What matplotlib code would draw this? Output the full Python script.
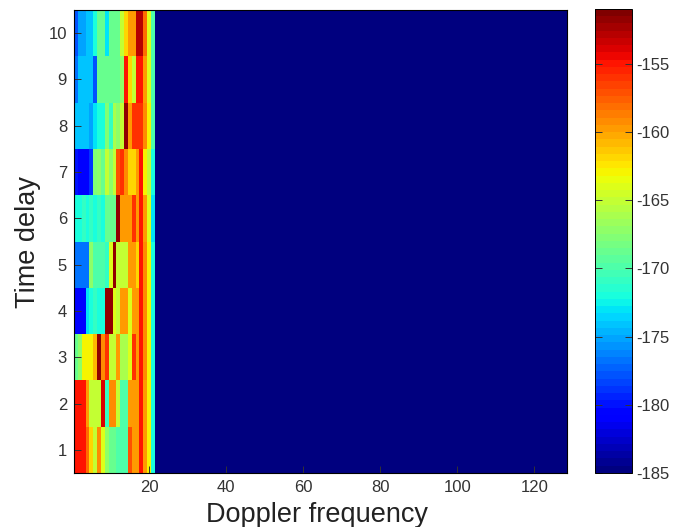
import numpy as np
import matplotlib
matplotlib.use("Agg")
import matplotlib.pyplot as plt

plt.rcParams['font.family'] = ['Liberation Sans', 'DejaVu Sans']

# power per time delay (row 1 = bottom), first 21 doppler bins, rest is at the floor
row1 = [-155,-155,-155,-158,-162,-165,-159,-164,-167,-169,-169,-170,-170,-170,-157,-160,-160,-155,-160,-163,-172]
row2 = [-155,-155,-155,-160,-165,-165,-165,-154,-171,-159,-159,-165,-170,-170,-160,-160,-160,-155,-160,-163,-172]
row3 = [-169,-167,-163,-163,-163,-161,-152,-159,-156,-165,-165,-160,-166,-166,-164,-156,-160,-155,-159,-163,-172]
row4 = [-181,-181,-181,-173,-172,-171,-172,-172,-152,-152,-164,-165,-160,-160,-164,-160,-160,-155,-159,-163,-172]
row5 = [-177,-177,-177,-177,-167,-170,-170,-170,-171,-164,-152,-165,-165,-165,-160,-160,-162,-155,-159,-163,-172]
row6 = [-172,-172,-171,-172,-171,-172,-171,-172,-169,-169,-169,-152,-160,-160,-160,-156,-160,-155,-160,-164,-173]
row7 = [-180,-181,-181,-181,-179,-168,-167,-169,-165,-167,-165,-157,-156,-159,-162,-162,-160,-155,-163,-165,-172]
row8 = [-174,-174,-174,-174,-175,-173,-172,-172,-168,-171,-166,-167,-165,-152,-160,-156,-156,-156,-159,-163,-170]
row9 = [-177,-174,-174,-174,-174,-178,-169,-169,-169,-169,-169,-169,-167,-155,-162,-165,-155,-155,-160,-164,-170]
row10 = [-178,-175,-175,-174,-174,-172,-169,-169,-173,-169,-169,-169,-165,-162,-160,-160,-153,-153,-158,-164,-170]
rows = [row1, row2, row3, row4, row5, row6, row7, row8, row9, row10]

n_doppler = 128
floor_db = -185
vmax_db = -151
xticks = [20, 40, 60, 80, 100, 120]
yticks = [1, 2, 3, 4, 5, 6, 7, 8, 9, 10]
cbar_ticks = [-155, -160, -165, -170, -175, -180, -185]

power = np.full((len(rows), n_doppler), float(floor_db))
for i, r in enumerate(rows):
    power[i, :len(r)] = r

W, H = 688, 527
fig = plt.figure(figsize=(W / 100, H / 100), dpi=100)
ax = fig.add_axes([74 / W, 1 - 473 / H, 493 / W, 463 / H])
cmap = plt.get_cmap('jet', 64)
im = ax.imshow(power, origin='lower', aspect='auto', cmap=cmap, vmin=floor_db, vmax=vmax_db,
               extent=[0.5, n_doppler + 0.5, 0.5, len(rows) + 0.5], interpolation='nearest')
ax.set_xticks(xticks)
ax.set_yticks(yticks)
ax.tick_params(direction='in', length=5, width=0.7, labelsize=12, colors='#333333', pad=5)
ax.set_xlabel('Doppler frequency', fontsize=19.5, color='#222222')
ax.set_ylabel('Time delay', fontsize=19.5, color='#222222')
ax.xaxis.set_label_coords(0.493, -0.062)
ax.yaxis.set_label_coords(-0.066, 0.498)

cax = fig.add_axes([595 / W, 1 - 473 / H, 37 / W, 464 / H])
cb = fig.colorbar(im, cax=cax, ticks=cbar_ticks)
cb.ax.tick_params(direction='in', length=5, width=0.7, labelsize=12, colors='#333333', pad=3)
cb.ax.tick_params(left=True, right=True)
cb.outline.set_linewidth(0.7)
cb.ax.set_yticklabels([str(t) for t in cbar_ticks])

fig.savefig('out.png', dpi=100)
